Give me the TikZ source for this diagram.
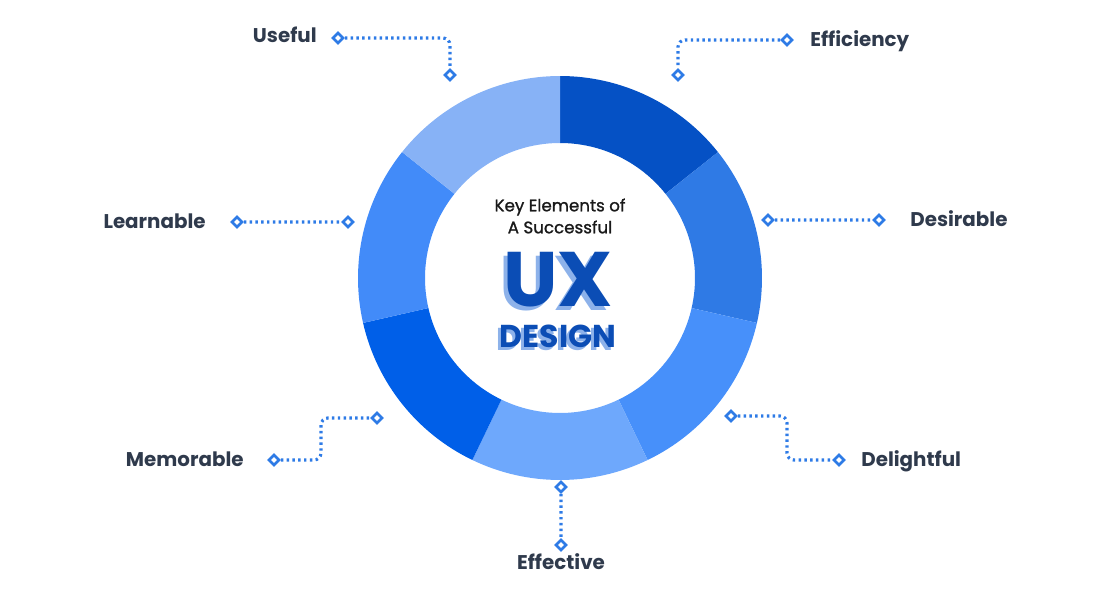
\documentclass[tikz,border=0pt]{standalone}
\usepackage{fontspec}
\setmainfont{Poppins}
\newfontfamily\titlefont{Poppins}[FakeBold=1.2]
\usetikzlibrary{positioning}
\definecolor{ux-text}{HTML}{2F3A4C}
\definecolor{ux-link}{HTML}{2E7BE6}
\definecolor{ux-main}{HTML}{0B4DB5}
\definecolor{ux-shade}{HTML}{8DB2EA}
\definecolor{ux-seg1}{HTML}{0551C5}
\definecolor{ux-seg2}{HTML}{2F7AE5}
\definecolor{ux-seg3}{HTML}{4790FA}
\definecolor{ux-seg4}{HTML}{6EA8FC}
\definecolor{ux-seg5}{HTML}{005FE8}
\definecolor{ux-seg6}{HTML}{428BF9}
\definecolor{ux-seg7}{HTML}{87B2F6}

\begin{document}
\begin{tikzpicture}[x=0.02cm, y=0.02cm,
  itemtext/.style={text=ux-text, font=\fontsize{11.3}{13}\selectfont\bfseries, inner sep=0pt, text height=0.72em, text depth=0pt},
  marker/.style={draw=ux-link, fill=white, line width=1.5pt, rectangle, rotate=45, minimum size=0.14cm, inner sep=0pt},
  link/.style={draw=ux-link, line width=1.8pt, dash pattern=on 1.4pt off 1.9pt, rounded corners=4pt},
  uxtext/.style={text=ux-main, font=\fontsize{44}{44}\selectfont\bfseries, inner sep=0pt}]
		\useasboundingbox (0,0) rectangle (1120,600);

		% Draw the ring segments
		\begin{scope}[shift={(560,322)}]
		\fill[ux-seg1] (90:202) arc[start angle=90, end angle=38.571, radius=202] -- (38.571:135) arc[start angle=38.571, end angle=90, radius=135] -- cycle;
		\fill[ux-seg2] (38.571:202) arc[start angle=38.571, end angle=-12.857, radius=202] -- (-12.857:135) arc[start angle=-12.857, end angle=38.571, radius=135] -- cycle;
		\fill[ux-seg3] (-12.857:202) arc[start angle=-12.857, end angle=-64.286, radius=202] -- (-64.286:135) arc[start angle=-64.286, end angle=-12.857, radius=135] -- cycle;
		\fill[ux-seg4] (-64.286:202) arc[start angle=-64.286, end angle=-115.714, radius=202] -- (-115.714:135) arc[start angle=-115.714, end angle=-64.286, radius=135] -- cycle;
		\fill[ux-seg5] (-115.714:202) arc[start angle=-115.714, end angle=-167.143, radius=202] -- (-167.143:135) arc[start angle=-167.143, end angle=-115.714, radius=135] -- cycle;
		\fill[ux-seg6] (192.857:202) arc[start angle=192.857, end angle=141.429, radius=202] -- (141.429:135) arc[start angle=141.429, end angle=192.857, radius=135] -- cycle;
		\fill[ux-seg7] (141.429:202) arc[start angle=141.429, end angle=90, radius=202] -- (90:135) arc[start angle=90, end angle=141.429, radius=135] -- cycle;
		\end{scope}

		% Draw the centre text
		\node (title) [align=center, text=black!90, font=\fontsize{9.5}{12.5}\selectfont\titlefont] at (560,384) {Key Elements of\\A Successful};
		\node (ux-back) [uxtext, text=ux-shade] at (554,316) {UX};
		\node (ux) [uxtext] at (558,320) {UX};
		\node (design-back) [uxtext, text=ux-shade, font=\fontsize{18}{18}\selectfont\bfseries] at (555,261) {DESIGN};
		\node (design) [uxtext, font=\fontsize{18}{18}\selectfont\bfseries] at (558,264) {DESIGN};

		% Draw the markers
		\node (useful-a) [marker] at (338,562) {};
		\node (useful-b) [marker] at (450,525) {};
		\node (effic-a) [marker] at (787,560) {};
		\node (effic-b) [marker] at (678,525) {};
		\node (learn-a) [marker] at (237,378) {};
		\node (learn-b) [marker] at (348,378) {};
		\node (desir-a) [marker] at (768,380) {};
		\node (desir-b) [marker] at (879,380) {};
		\node (memor-a) [marker] at (274,140) {};
		\node (memor-b) [marker] at (377,182) {};
		\node (delig-a) [marker] at (731,184) {};
		\node (delig-b) [marker] at (839,140) {};
		\node (effect-a) [marker] at (561,113) {};
		\node (effect-b) [marker] at (561,55) {};
		\coordinate (memor-turn) at (321,161);
		\coordinate (delig-turn) at (787,162);

		% Draw the labels
		\node (useful) [itemtext, left=0.42cm of useful-a.center, yshift=0.04cm] {Useful};
		\node (effic) [itemtext, right=0.46cm of effic-a.center] {Efficiency};
		\node (learn) [itemtext, left=0.62cm of learn-a.center] {Learnable};
		\node (desir) [itemtext, right=0.62cm of desir-b.center] {Desirable};
		\node (memor) [itemtext, left=0.6cm of memor-a.center] {Memorable};
		\node (delig) [itemtext, right=0.44cm of delig-b.center] {Delightful};
		\node (effect) [itemtext, below=0.23cm of effect-b.center] {Effective};

		% Connect the markers with dotted lines
		\draw[link] (useful-a) -| (useful-b);
		\draw[link] (effic-a) -| (effic-b);
		\draw[link] (learn-a) -- (learn-b);
		\draw[link] (desir-a) -- (desir-b);
		\draw[link] (memor-a) -| (memor-turn) |- (memor-b);
		\draw[link] (delig-a) -| (delig-turn) |- (delig-b);
		\draw[link] (effect-a) -- (effect-b);
\end{tikzpicture}
\end{document}
